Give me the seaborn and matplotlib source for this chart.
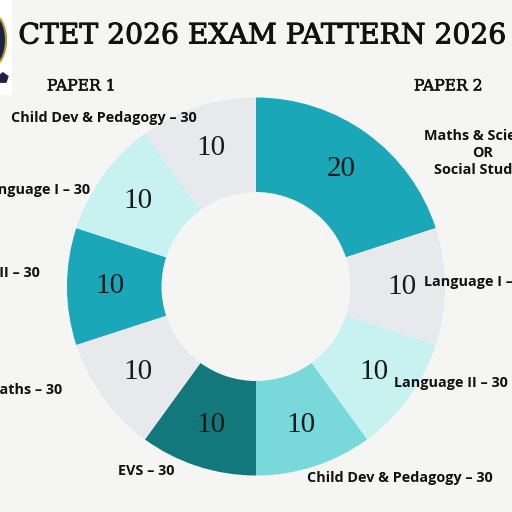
import matplotlib
matplotlib.use("Agg")
import matplotlib.pyplot as plt
import matplotlib.patheffects as pe
import seaborn as sns
from matplotlib.patches import Rectangle, Ellipse, RegularPolygon

sns.set_theme(style="white")
plt.rcParams['font.family'] = ['DejaVu Sans']

# Data: clockwise from 12 o'clock
segments = ["Maths & Science / Social Studies (P2)", "Language I (P2)", "Language II (P2)",
            "Child Dev & Pedagogy (P2)", "EVS (P1)", "Maths (P1)", "Language II (P1)",
            "Language I (P1)", "Child Dev & Pedagogy (P1)"]
values = [20, 10, 10, 10, 10, 10, 10, 10, 10]
colors = ["#1aa8b8", "#e8e9ed", "#c7f2f1", "#79d8da", "#13787b",
          "#e8e9ed", "#1aa8b8", "#c7f2f1", "#e8e9ed"]

title = "CTET 2026 EXAM PATTERN 2026"
paper_labels = ["PAPER 1", "PAPER 2"]
# outer labels (text, x_px, y_px, ha)
outer_labels = [
    ("Child Dev & Pedagogy – 30", 11, 118, "left"),
    ("Language I – 30", 90, 190, "right"),
    ("Language II – 30", 40, 273, "right"),
    ("Maths – 30", 62, 390, "right"),
    ("EVS – 30", 118, 471, "left"),
    ("Child Dev & Pedagogy – 30", 307, 478, "left"),
    ("Language II – 30", 394, 383, "left"),
    ("Language I – 30", 424, 282, "left"),
    ("Maths & Science\nOR\nSocial Studies", 483, 153, "center"),
]

BG = "#f5f5f4"
W = H = 512
CX, CY, R = 256, 286.5, 189

fig = plt.figure(figsize=(5.12, 5.12), dpi=100, facecolor=BG)
ax = fig.add_axes([0, 0, 1, 1])
ax.set_facecolor(BG)

wedges, texts = ax.pie(values, colors=colors, startangle=90, counterclock=False,
                       radius=1.0, labels=[str(v) for v in values], labeldistance=0.77,
                       wedgeprops=dict(width=0.5, edgecolor="none"),
                       textprops=dict(family="Liberation Serif", fontsize=21, color="#1a1a1a"))
for t in texts:
    t.set_ha("center")
    t.set_va("center")

ax.set_xlim((0 - CX) / R, (W - CX) / R)
ax.set_ylim(-(H - CY) / R, CY / R)
ax.set_aspect("equal")
ax.axis("off")

def px(x, y):
    return x / W, 1 - y / H

# logo fragment
fig.patches.append(Rectangle((0, 1 - 95 / H), 12 / W, 95 / H, transform=fig.transFigure,
                             facecolor="white", edgecolor="none", zorder=0))
fig.patches.append(Ellipse(px(-8, 40), 28 / W, 52 / H, transform=fig.transFigure,
                           facecolor="#1d2347", edgecolor="#b8962e", lw=1.5, zorder=1))
fig.patches.append(RegularPolygon(px(3, 78), 5, radius=6 / W, transform=fig.transFigure,
                                  facecolor="#1d2347", edgecolor="none", zorder=1))

thick = [pe.withStroke(linewidth=0.7, foreground="#111111")]
fig.text(*px(263, 36), title, family="DejaVu Serif", fontsize=20.3, color="#111111",
         ha="center", va="center", path_effects=thick)
thin = [pe.withStroke(linewidth=0.4, foreground="#111111")]
fig.text(*px(81, 86), paper_labels[0], family="DejaVu Serif", fontsize=11.2, color="#111111",
         ha="center", va="center", path_effects=thin)
fig.text(*px(448, 86), paper_labels[1], family="DejaVu Serif", fontsize=11.2, color="#111111",
         ha="center", va="center", path_effects=thin)

for txt, x, y, ha in outer_labels:
    fig.text(*px(x, y), txt, family="Open Sans", fontweight="bold", fontsize=10.4,
             color="#111111", ha=ha, va="center", linespacing=1.3,
             multialignment="center")

fig.savefig("out.png", dpi=100, facecolor=BG)
